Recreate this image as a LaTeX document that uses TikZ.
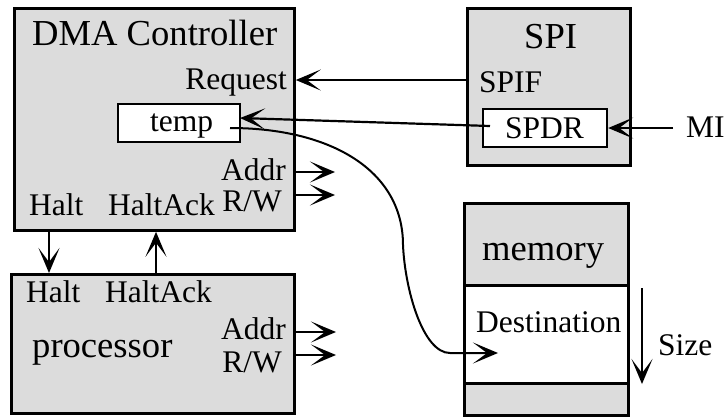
\documentclass[tikz,border=0pt]{standalone}
\usepackage{fontspec}
\setmainfont{Liberation Serif}
\usetikzlibrary{arrows.meta}
\definecolor{boxgray}{RGB}{220,220,220}
\begin{document}
\begin{tikzpicture}[x=1pt,y=-1pt,
  blk/.style={draw, line width=2.8pt, fill=boxgray, inner sep=0pt, anchor=north west},
  reg/.style={draw, line width=2.2pt, fill=white, inner sep=0pt, anchor=north west},
  title/.style={inner sep=0pt, font=\fontsize{36.6}{40}\selectfont},
  lbl/.style={inner sep=0pt, font=\fontsize{31.5}{34}\selectfont},
  tipshape/.style={-{Stealth[length=25pt,width=21pt,inset=14pt]}},
  sig/.style={line width=2.2pt, tipshape},
]
\useasboundingbox (0,0) rectangle (725,416);

% blocks
\node[blk, minimum width=280pt, minimum height=222pt] (dma) at (13,7) {};
\node[reg, minimum width=122pt, minimum height=38pt] (temp) at (117,103) {};
\node[blk, minimum width=283pt, minimum height=139pt] (proc) at (10,273) {};
\node[blk, minimum width=163pt, minimum height=157pt] (spi) at (466,7) {};
\node[reg, minimum width=124pt, minimum height=38pt] (spdr) at (482,108) {};
\node[blk, minimum width=164pt, minimum height=212pt] (mem) at (463,202) {};
\node[blk, fill=white, minimum width=164pt, minimum height=98pt] (dest) at (463,284) {};

% DMA controller texts
\node[title, anchor=base west] (dmat) at (32,45) {DMA Controller};
\node[lbl, anchor=base east] (req) at (287,89) {Request};
\node[lbl, anchor=base west] (tempt) at (150,131) {temp};
\node[lbl, anchor=base east] (daddrt) at (286,180) {Addr};
\node[lbl, anchor=base east] (drwt) at (282,211) {R/W};
\node[lbl, anchor=base west] (dhalt) at (29,215) {Halt};
\node[lbl, anchor=base west] (dhack) at (108,215) {HaltAck};

% processor texts
\node[lbl, anchor=base west] (phalt) at (26,302) {Halt};
\node[lbl, anchor=base west] (phack) at (105,302) {HaltAck};
\node[title, anchor=base west] (proct) at (32,357) {processor};
\node[lbl, anchor=base east] (paddrt) at (286,339) {Addr};
\node[lbl, anchor=base east] (prwt) at (282,372) {R/W};

% SPI texts
\node[title, anchor=base west] (spit) at (524,48) {SPI};
\node[lbl, anchor=base west] (spif) at (479,92) {SPIF};
\node[lbl, anchor=base west] (spdrt) at (505,138) {SPDR};
\node[lbl, anchor=base west] (mi) at (686,137) {MI};

% memory texts
\node[title, anchor=base west] (memt) at (482,260) {memory};
\node[lbl, anchor=base west] (destt) at (476,332) {Destination};
\node[lbl, anchor=base west] (sizet) at (658,355) {Size};

% connector ends
\coordinate (reqy) at (0,80);
\coordinate (spdrin) at (490,126);
\coordinate (tempin) at (240,118);
\coordinate (miout) at (673,128);
\coordinate (daddr) at (335,172);
\coordinate (drw) at (335,195);
\coordinate (paddr) at (336,332);
\coordinate (prw) at (336,355);
\coordinate (haltx) at (49,0);
\coordinate (hackx) at (156,0);
\coordinate (tempout) at (230,128);
\coordinate (destin) at (498,353);
\coordinate (sizetop) at (642,288);
\coordinate (sizebot) at (642,384);

% connectors
\draw[sig] (spi.west |- reqy) -- (dma.east |- reqy);
\draw[sig] (spdrin) -- (tempin);
\draw[sig] (miout) -- (spdr.east |- miout);
\draw[sig] (dma.east |- daddr) -- (daddr);
\draw[sig] (dma.east |- drw) -- (drw);
\draw[sig] (proc.east |- paddr) -- (paddr);
\draw[sig] (proc.east |- prw) -- (prw);
\draw[sig] (dma.south -| haltx) -- (proc.north -| haltx);
\draw[sig] (proc.north -| hackx) -- (dma.south -| hackx);
\draw[sig] (sizetop) -- (sizebot);
\draw[line width=2pt, tipshape] (tempout) .. controls (330,128) and (403,170) .. (403,245)
  .. controls (405,290) and (423,353) .. (450,353) -- (destin);
\end{tikzpicture}
\end{document}
